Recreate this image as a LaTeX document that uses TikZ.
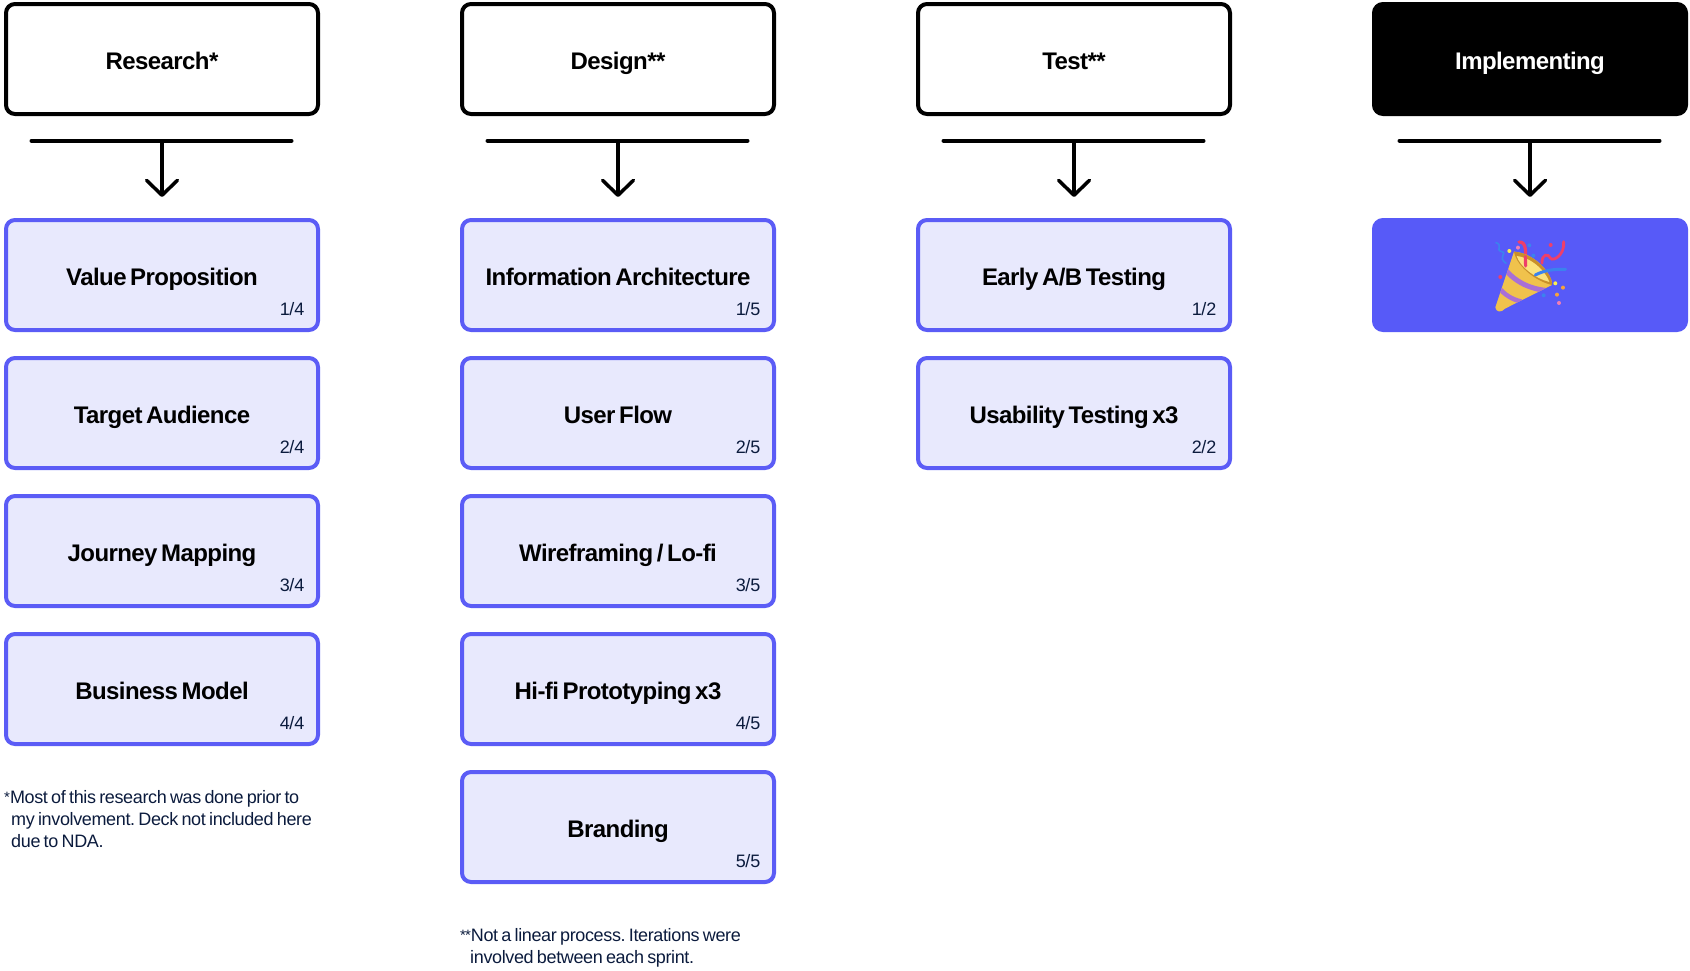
\documentclass[tikz,border=0pt]{standalone}
\usepackage{fontspec}
\setmainfont{Liberation Sans}
\newfontfamily\headf[LetterSpace=-2.4,WordSpace=0.6]{Liberation Sans}
\newfontfamily\notef[LetterSpace=-2.0,WordSpace=0.7]{Liberation Sans}
\newfontfamily\cntf[LetterSpace=-3.2]{Liberation Sans}
\usetikzlibrary{arrows.meta,calc}
\definecolor{violet}{HTML}{5B5CF6}
\definecolor{lav}{HTML}{E8E9FD}
\definecolor{party}{HTML}{575AF8}
\definecolor{navy}{HTML}{0B1B3D}
\definecolor{gold}{HTML}{F0C24C}
\definecolor{golddk}{HTML}{C8902A}
\definecolor{goldlt}{HTML}{FBE27E}
\definecolor{stripe}{HTML}{A96FD6}
\definecolor{ribred}{HTML}{EE3F6A}
\definecolor{ribblue}{HTML}{3B82EE}
\definecolor{confy}{HTML}{FBF04E}
\definecolor{confp}{HTML}{F27FB2}
\definecolor{confo}{HTML}{F6A33C}
\tikzset{
  base/.style={rounded corners=9pt,minimum width=312pt,minimum height=110pt,
    inner sep=0pt,outer sep=0pt,line width=4pt,text height=23pt,text depth=3pt,
    font=\headf\fontsize{24}{28}\selectfont\bfseries},
  headbox/.style={base,draw=black,fill=white,text=black},
  headdark/.style={base,draw=black,fill=black,text=white},
  stepbox/.style={base,draw=violet,fill=lav,text=black},
  partybox/.style={base,draw=party,fill=party},
  cnt/.style={anchor=base east,inner sep=0pt,text=navy,font=\cntf\fontsize{18}{22}\selectfont},
  note/.style={anchor=base west,inner sep=0pt,text=navy,font=\notef\fontsize{18}{22}\selectfont\frenchspacing},
  bar/.style={line width=4pt,line cap=round,black},
  arrow/.style={line width=3.5pt,black,-{Straight Barb[round,length=15pt,width=31pt,line width=3.5pt]}},
}
\newcommand{\st}{\raisebox{1pt}{\fontsize{15}{15}\selectfont *}}
\begin{document}
\begin{tikzpicture}[x=1pt,y=-1pt]
\useasboundingbox (0,0) rectangle (1690,970);
% headers
\node[headbox]  (h1) at (162,59)  {Research*};
\node[headbox]  (h2) at (618,59)  {Design**};
\node[headbox]  (h3) at (1074,59) {Test**};
\node[headdark] (h4) at (1530,59) {Implementing};
% steps
\node[stepbox] (a1) at (162,275) {Value Proposition};
\node[stepbox] (a2) at (162,413) {Target Audience};
\node[stepbox] (a3) at (162,551) {Journey Mapping};
\node[stepbox] (a4) at (162,689) {Business Model};
\node[stepbox] (b1) at (618,275) {Information Architecture};
\node[stepbox] (b2) at (618,413) {User Flow};
\node[stepbox] (b3) at (618,551) {Wireframing / Lo-fi};
\node[stepbox] (b4) at (618,689) {Hi-fi Prototyping x3};
\node[stepbox] (b5) at (618,827) {Branding};
\node[stepbox] (c1) at (1074,275) {Early A/B Testing};
\node[stepbox] (c2) at (1074,413) {Usability Testing x3};
\node[partybox] (d1) at (1530,275) {};
% counters
\foreach \n/\t in {a1/1\slash 4,a2/2\slash 4,a3/3\slash 4,a4/4\slash 4,
                   b1/1\slash 5,b2/2\slash 5,b3/3\slash 5,b4/4\slash 5,b5/5\slash 5,
                   c1/1\slash 2,c2/2\slash 2}
  \node[cnt] (cnt-\n) at ($(\n.south east)+(-13.5,-15)$) {\t};
% connectors
\foreach \h/\s in {h1/a1,h2/b1,h3/c1,h4/d1}{
  \coordinate (\h-l) at ($(\h.south)+(-130.5,26.7)$);
  \coordinate (\h-r) at ($(\h.south)+(129.5,26.7)$);
  \coordinate (\h-m) at ($(\h.south)+(0,26.7)$);
  \coordinate (\h-e) at ($(\s.north)+(0,-23)$);
  \draw[bar] (\h-l) -- (\h-r);
  \draw[arrow] (\h-m) -- (\h-e);
}
% footnotes
\node[note] (n1a) at (4,803) {\st Most of this research was done prior to};
\node[note] (n1b) at (11,825) {my involvement. Deck not included here};
\node[note] (n1c) at (11,847) {due to NDA.};
\node[note] (n2a) at (460,941) {\st\kern-1pt\st Not a linear process. Iterations were};
\node[note] (n2b) at (470,963) {involved between each sprint.};
% party popper
\begin{scope}[shift={(1340,0)},x=0.3333pt,y=-0.3333pt]
  \draw[ribblue,line width=1.6pt,line cap=round] (468,728) .. controls (490,735) and (465,750) .. (485,755) .. controls (505,760) and (470,770) .. (498,790);
  \draw[ribred,line width=3.2pt,line cap=round] (537,726) .. controls (562,725) and (556,760) .. (557,798);
  \draw[ribred,line width=2.8pt,line cap=round] (606,790) .. controls (605,760) and (625,760) .. (632,775) .. controls (640,785) and (675,765) .. (671,725);
  \begin{scope}
    \clip (522,755) -- (466,922) .. controls (468,938) and (485,938) .. (495,926) -- (636,855) .. controls (640,830) and (590,760) .. (522,755) -- cycle;
    \fill[gold] (440,740) rectangle (650,940);
    \draw[stripe,line width=5pt] (495,808) .. controls (530,850) and (575,868) .. (625,872);
    \draw[stripe,line width=4.5pt] (475,862) .. controls (495,885) and (515,898) .. (545,905);
  \end{scope}
  \fill[golddk] (522,755) .. controls (590,760) and (640,830) .. (636,855) .. controls (590,845) and (530,800) .. (522,755) -- cycle;
  \fill[goldlt] (530,768) .. controls (585,775) and (622,825) .. (628,846) .. controls (585,835) and (540,800) .. (530,768) -- cycle;
  \draw[ribred,line width=3.2pt,line cap=round] (556,770) -- (557,798);
  \draw[ribblue,line width=3pt,line cap=round] (586,825) .. controls (615,810) and (645,807) .. (677,808);
  \foreach \dx/\dy/\col in {508/753/confy,534/743/confp,568/736/ribblue,580/767/ribblue,632/735/ribred,
     481/831/ribred,646/850/confy,669/863/confo,651/884/confo,657/909/confp,611/886/ribblue}
    \fill[\col] (\dx,\dy) circle (2pt);
\end{scope}
\end{tikzpicture}
\end{document}
